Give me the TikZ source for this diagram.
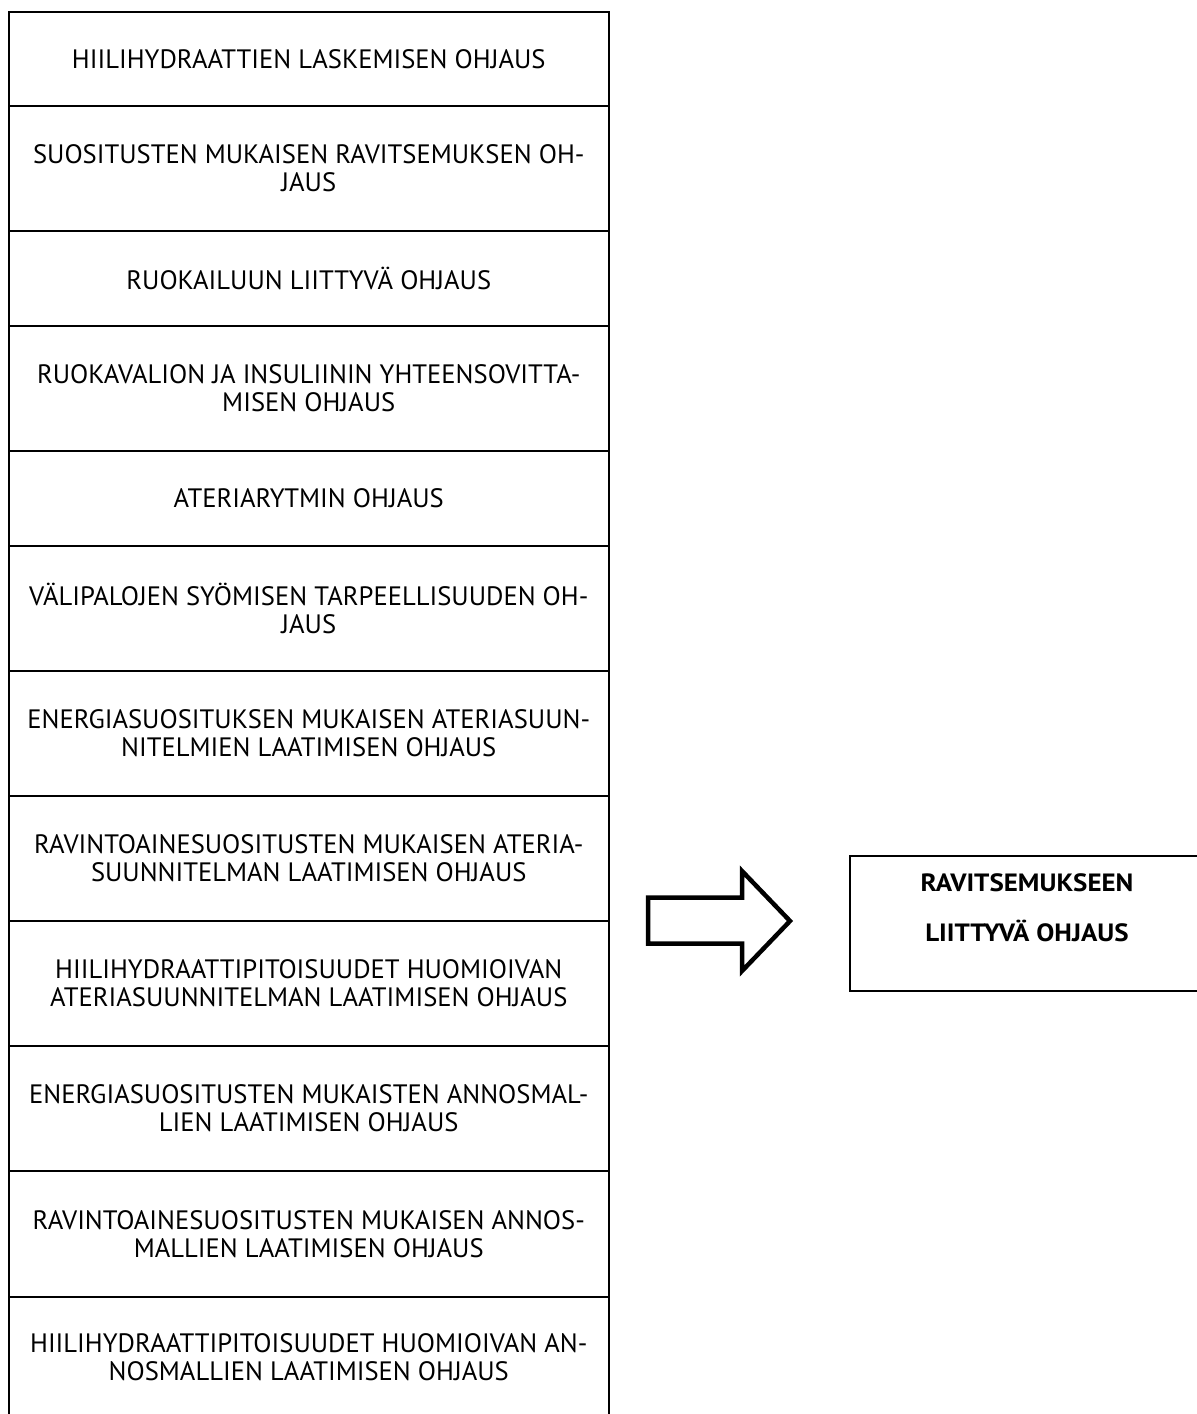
\documentclass[tikz,border=0pt]{standalone}
\usepackage{fontspec}
\setmainfont{PT Sans}
\newfontfamily\boldhead{PT Sans Bold}[FakeStretch=1.08]
\begin{document}
\begin{tikzpicture}[x=0.5pt,y=-0.5pt,
  row/.style={draw, line width=1pt, minimum width=300.25pt, inner sep=0pt,
    align=center, font=\fontsize{13.3}{14}\selectfont},
  result/.style={draw, line width=0.65pt, minimum width=177pt, minimum height=67.5pt, inner sep=0pt},
  resulttext/.style={align=center, inner sep=0pt, font=\boldhead\fontsize{12.5}{25}\selectfont},
  blockarrow/.style={draw, line width=2.25pt, line join=miter, fill=white}]
\useasboundingbox (0,0) rectangle (1197,1414);

% stacked list of guidance topics (the last row runs on past the lower edge)
\foreach \n/\top/\bot/\txt in {
  1/12/106/{HIILIHYDRAATTIEN LASKEMISEN OHJAUS},
  2/106/231/{SUOSITUSTEN MUKAISEN RAVITSEMUKSEN OH-\\JAUS},
  3/231/326/{RUOKAILUUN LIITTYVÄ OHJAUS},
  4/326/451/{RUOKAVALION JA INSULIININ YHTEENSOVITTA-\\MISEN OHJAUS},
  5/451/546/{ATERIARYTMIN OHJAUS},
  6/546/671/{VÄLIPALOJEN SYÖMISEN TARPEELLISUUDEN OH-\\JAUS},
  7/671/796/{ENERGIASUOSITUKSEN MUKAISEN ATERIASUUN-\\NITELMIEN LAATIMISEN OHJAUS},
  8/796/921/{RAVINTOAINESUOSITUSTEN MUKAISEN ATERIA-\\SUUNNITELMAN LAATIMISEN OHJAUS},
  9/921/1046/{HIILIHYDRAATTIPITOISUUDET HUOMIOIVAN\\ATERIASUUNNITELMAN LAATIMISEN OHJAUS},
  10/1046/1171/{ENERGIASUOSITUSTEN MUKAISTEN ANNOSMAL-\\LIEN LAATIMISEN OHJAUS},
  11/1171/1297/{RAVINTOAINESUOSITUSTEN MUKAISEN ANNOS-\\MALLIEN LAATIMISEN OHJAUS},
  12/1297/1417/{HIILIHYDRAATTIPITOISUUDET HUOMIOIVAN AN-\\NOSMALLIEN LAATIMISEN OHJAUS}}
{
  \node[row, minimum height={(\bot-\top)*0.5pt}] (r\n) at (308.75, {(\top+\bot)/2}) {\txt};
}

% summary box
\node[result] (res) at (1027, 923.5) {};
\node[resulttext] (reslabel) at (1027, 908) {RAVITSEMUKSEEN\\LIITTYVÄ OHJAUS};

% block arrow pointing to the summary
\draw[blockarrow] (648,897.5) -- (742,897.5) -- (742,871) -- (790,921)
  -- (742,971) -- (742,943.5) -- (648,943.5) -- cycle;
\end{tikzpicture}
\end{document}
